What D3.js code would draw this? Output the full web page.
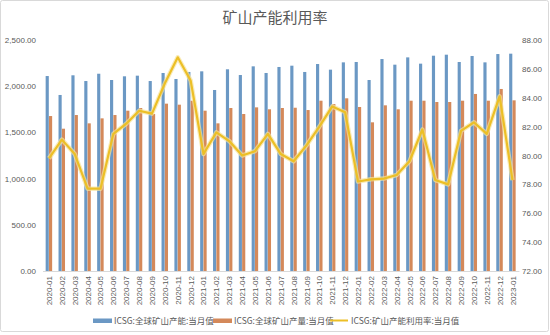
<!DOCTYPE html>
<html><head><meta charset="utf-8">
<script src="https://cdn.jsdelivr.net/npm/d3@7"></script>
<style>
body{margin:0;background:#fff;}
svg{display:block;font-family:"Noto Sans CJK SC","Noto Sans",sans-serif;}
</style></head>
<body><svg id="c" width="550" height="335"></svg>
<script>
const categories = ["2020-01","2020-02","2020-03","2020-04","2020-05","2020-06","2020-07","2020-08","2020-09","2020-10","2020-11","2020-12",
"2021-01","2021-02","2021-03","2021-04","2021-05","2021-06","2021-07","2021-08","2021-09","2021-10","2021-11","2021-12",
"2022-01","2022-02","2022-03","2022-04","2022-05","2022-06","2022-07","2022-08","2022-09","2022-10","2022-11","2022-12","2023-01"];
const capacity = [2110,1905,2118,2056,2135,2067,2107,2114,2056,2143,2078,2154,
2161,1959,2183,2121,2215,2143,2208,2222,2154,2240,2179,2258,
2262,2067,2294,2233,2312,2244,2330,2341,2262,2327,2258,2348,2352];
const production = [1677,1540,1688,1598,1652,1688,1735,1764,1699,1811,1800,1843,
1735,1598,1764,1699,1771,1750,1764,1767,1742,1843,1807,1869,
1775,1609,1793,1750,1843,1843,1829,1829,1843,1916,1843,1970,1847];
const utilization = [79.8,81.1,80.1,77.7,77.7,81.5,82.2,83.1,82.9,85.0,86.8,85.2,
80.1,81.6,81.0,80.0,80.3,81.5,80.1,79.6,80.7,82.0,83.4,83.0,
78.2,78.35,78.4,78.65,79.6,81.8,78.3,78.0,81.7,82.3,81.5,84.1,78.3];
const leftTicks = [0,500,1000,1500,2000,2500];
const rightTicks = [72,74,76,78,80,82,84,86,88];
const seriesNames = ["ICSG:全球矿山产能:当月值","ICSG:全球矿山产量:当月值","ICSG:矿山产能利用率:当月值"];
const title = "矿山产能利用率";

const colors = {cap:"#6b98c4", prod:"#d4895a", line:"#ecbf26", text:"#595959"};
const svg = d3.select("#c");
const W=550,H=335;
svg.append("rect").attr("x",0.5).attr("y",0.5).attr("width",W-2).attr("height",H-4)
  .attr("fill","#fff").attr("stroke","#d9d9d9").attr("rx",2);

const x = d3.scaleBand().domain(categories).range([42.56,518.94]).paddingInner(0.48).paddingOuter(0.24);
const xs = d3.scaleBand().domain(["cap","prod"]).range([0,x.bandwidth()]).padding(0);
const yL = d3.scaleLinear().domain([0,2500]).range([271,40]);
const yR = d3.scaleLinear().domain([72,88]).range([271,40]);

svg.append("text").attr("x",275).attr("y",23).attr("text-anchor","middle")
  .attr("font-size",15).attr("fill",colors.text).text(title);

// axes
const fmt = d3.format(",.2f");
const gl = svg.append("g").attr("transform","translate(40,0)")
  .call(d3.axisLeft(yL).tickValues(leftTicks).tickFormat(fmt).tickSize(0).tickPadding(4));
const gr = svg.append("g").attr("transform","translate(519,0)")
  .call(d3.axisRight(yR).tickValues(rightTicks).tickFormat(d3.format(".2f")).tickSize(0).tickPadding(3));
[gl,gr].forEach(g=>{g.select(".domain").remove();
  g.selectAll("text").attr("fill",colors.text).attr("font-size",8).attr("font-family","Liberation Sans, sans-serif");});

const gx = svg.append("g").attr("transform","translate(0,271)")
  .call(d3.axisBottom(x).tickSize(0).tickPadding(0));
gx.select(".domain").attr("stroke","#d9d9d9");
gx.selectAll("text").attr("fill",colors.text).attr("font-size",8).attr("font-family","Liberation Sans, sans-serif")
  .attr("transform","rotate(-90)").attr("text-anchor","end").attr("dx",-5).attr("dy",3).attr("y",0).attr("x",0);

// bars
const bars = svg.append("g");
bars.selectAll(".cap").data(categories).join("rect")
  .attr("x",(d,i)=>x(d)+xs("cap")).attr("width",xs.bandwidth()-0.2)
  .attr("y",(d,i)=>yL(capacity[i])).attr("height",(d,i)=>yL(0)-yL(capacity[i]))
  .attr("fill",colors.cap);
bars.selectAll(".prod").data(categories).join("rect")
  .attr("x",(d,i)=>x(d)+xs("prod")).attr("width",xs.bandwidth()-0.2)
  .attr("y",(d,i)=>yL(production[i])).attr("height",(d,i)=>yL(0)-yL(production[i]))
  .attr("fill",colors.prod);

// line
const line = d3.line().x((d,i)=>x(categories[i])+x.bandwidth()/2).y(d=>yR(d));
svg.append("path").datum(utilization).attr("d",line).attr("fill","none")
  .attr("stroke","#f7e39a").attr("stroke-width",4.5).attr("stroke-linejoin","round").attr("opacity",0.7);
svg.append("path").datum(utilization).attr("d",line).attr("fill","none")
  .attr("stroke",colors.line).attr("stroke-width",2.2).attr("stroke-linejoin","round");

// legend
const lg = svg.append("g").attr("font-size",8.5).attr("fill",colors.text);
const items = [{x:93,type:"rect",c:colors.cap,t:seriesNames[0]},
               {x:213,type:"rect",c:colors.prod,t:seriesNames[1]},
               {x:330,type:"line",c:colors.line,t:seriesNames[2]}];
items.forEach(it=>{
  if(it.type==="rect") lg.append("rect").attr("x",it.x).attr("y",318.5).attr("width",19).attr("height",4.5).attr("fill",it.c);
  else lg.append("line").attr("x1",it.x).attr("x2",it.x+18).attr("y1",320.5).attr("y2",320.5).attr("stroke",it.c).attr("stroke-width",2);
  lg.append("text").attr("x",it.x+21).attr("y",323.5).attr("fill",colors.text).text(it.t);
});
</script></body></html>
